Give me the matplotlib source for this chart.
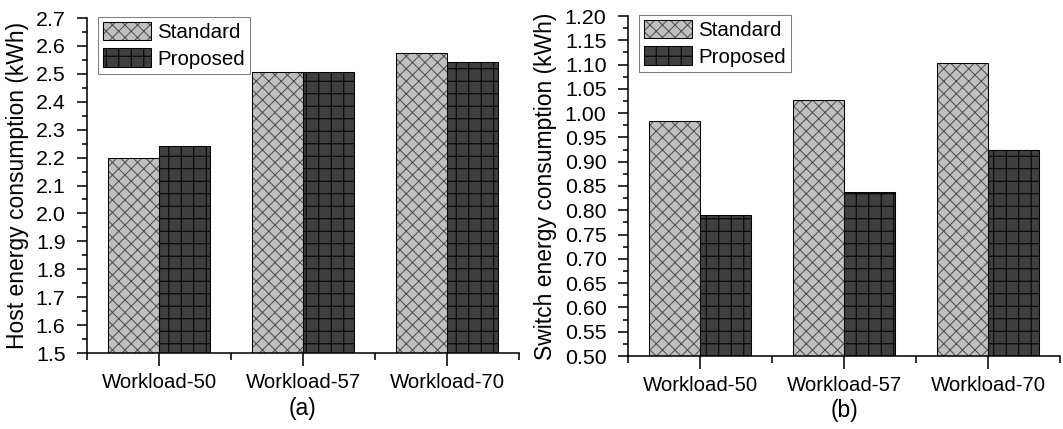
import numpy as np
import matplotlib
matplotlib.use("Agg")
import matplotlib.pyplot as plt
from matplotlib.ticker import MultipleLocator, FixedLocator, FormatStrFormatter

plt.rcParams["font.family"] = ["Liberation Sans", "DejaVu Sans"]
plt.rcParams["hatch.linewidth"] = 1.0

# energy per workload, in kWh
WORKLOADS = ["Workload-50", "Workload-57", "Workload-70"]
HOST_STANDARD = [2.198, 2.508, 2.574]
HOST_PROPOSED = [2.243, 2.508, 2.544]
SWITCH_STANDARD = [0.984, 1.028, 1.104]
SWITCH_PROPOSED = [0.790, 0.838, 0.925]

W = 0.355
STD_FACE, STD_HATCH = "#c0c0c0", "#505050"
PRO_FACE, PRO_HATCH = "#404040", "#000000"


def draw_panel(ax, standard, proposed, ylim, step, fmt, ylabel, tag, label_x, tag_y):
	x = np.arange(len(WORKLOADS))
	# hatched fill first, then a plain black outline on top
	s_fill = ax.bar(x - W / 2, standard, W, color=STD_FACE, edgecolor=STD_HATCH,
		hatch="xx", linewidth=0, zorder=2)
	s_edge = ax.bar(x - W / 2, standard, W, fill=False, edgecolor="black", linewidth=1.0, zorder=3)
	p_fill = ax.bar(x + W / 2, proposed, W, color=PRO_FACE, edgecolor=PRO_HATCH,
		hatch="+", linewidth=0, zorder=2)
	p_edge = ax.bar(x + W / 2, proposed, W, fill=False, edgecolor="black", linewidth=1.0, zorder=3)

	ax.set_xlim(-0.5, len(WORKLOADS) - 0.5)
	ax.set_ylim(*ylim)
	for side in ["top", "right"]:
		ax.spines[side].set_visible(False)
	for side in ["left", "bottom"]:
		ax.spines[side].set_linewidth(1.5)

	ax.set_xticks(x)
	ax.set_xticklabels(WORKLOADS, fontsize=19.5)
	ax.xaxis.set_minor_locator(FixedLocator(np.arange(-0.5, len(WORKLOADS), 1.0)))
	ax.tick_params(axis="x", which="major", direction="out", length=12.5, width=1.5, pad=7)
	ax.tick_params(axis="x", which="minor", direction="out", length=6.7, width=1.5)

	ax.yaxis.set_major_locator(MultipleLocator(step))
	ax.yaxis.set_minor_locator(MultipleLocator(step / 2))
	ax.yaxis.set_major_formatter(FormatStrFormatter(fmt))
	ax.tick_params(axis="y", which="major", direction="out", length=9.6, width=1.5, pad=11, labelsize=20.5)
	ax.tick_params(axis="y", which="minor", direction="out", length=4.8, width=1.5)

	ax.set_ylabel(ylabel, fontsize=22)
	ax.yaxis.set_label_coords(label_x, 0.5)
	ax.set_xlabel(tag, fontsize=22)
	ax.xaxis.set_label_coords(0.5, tag_y)

	leg = ax.legend([(s_fill[0], s_edge[0]), (p_fill[0], p_edge[0])], ["Standard", "Proposed"],
		loc="upper left", bbox_to_anchor=(0.0255, 1.003), fontsize=19.7, frameon=True,
		fancybox=False, framealpha=1, edgecolor="#808080", handlelength=2.35, handleheight=1.0,
		handletextpad=0.3, labelspacing=0.3, borderpad=0.25, borderaxespad=0)
	leg.get_frame().set_linewidth(1.0)


fig = plt.figure(figsize=(1063 / 75, 429 / 75), dpi=75)
ax1 = fig.add_axes([87 / 1063, 76 / 429, 432 / 1063, 335 / 429])
ax2 = fig.add_axes([628 / 1063, 73 / 429, 432 / 1063, 340 / 429])

draw_panel(ax1, HOST_STANDARD, HOST_PROPOSED, (1.5, 2.7), 0.1, "%.1f",
	"Host energy consumption (kWh)", "(a)", -0.134, -0.131)
draw_panel(ax2, SWITCH_STANDARD, SWITCH_PROPOSED, (0.5, 1.2), 0.05, "%.2f",
	"Switch energy consumption (kWh)", "(b)", -0.164, -0.126)

fig.savefig("out.png", dpi=75)
